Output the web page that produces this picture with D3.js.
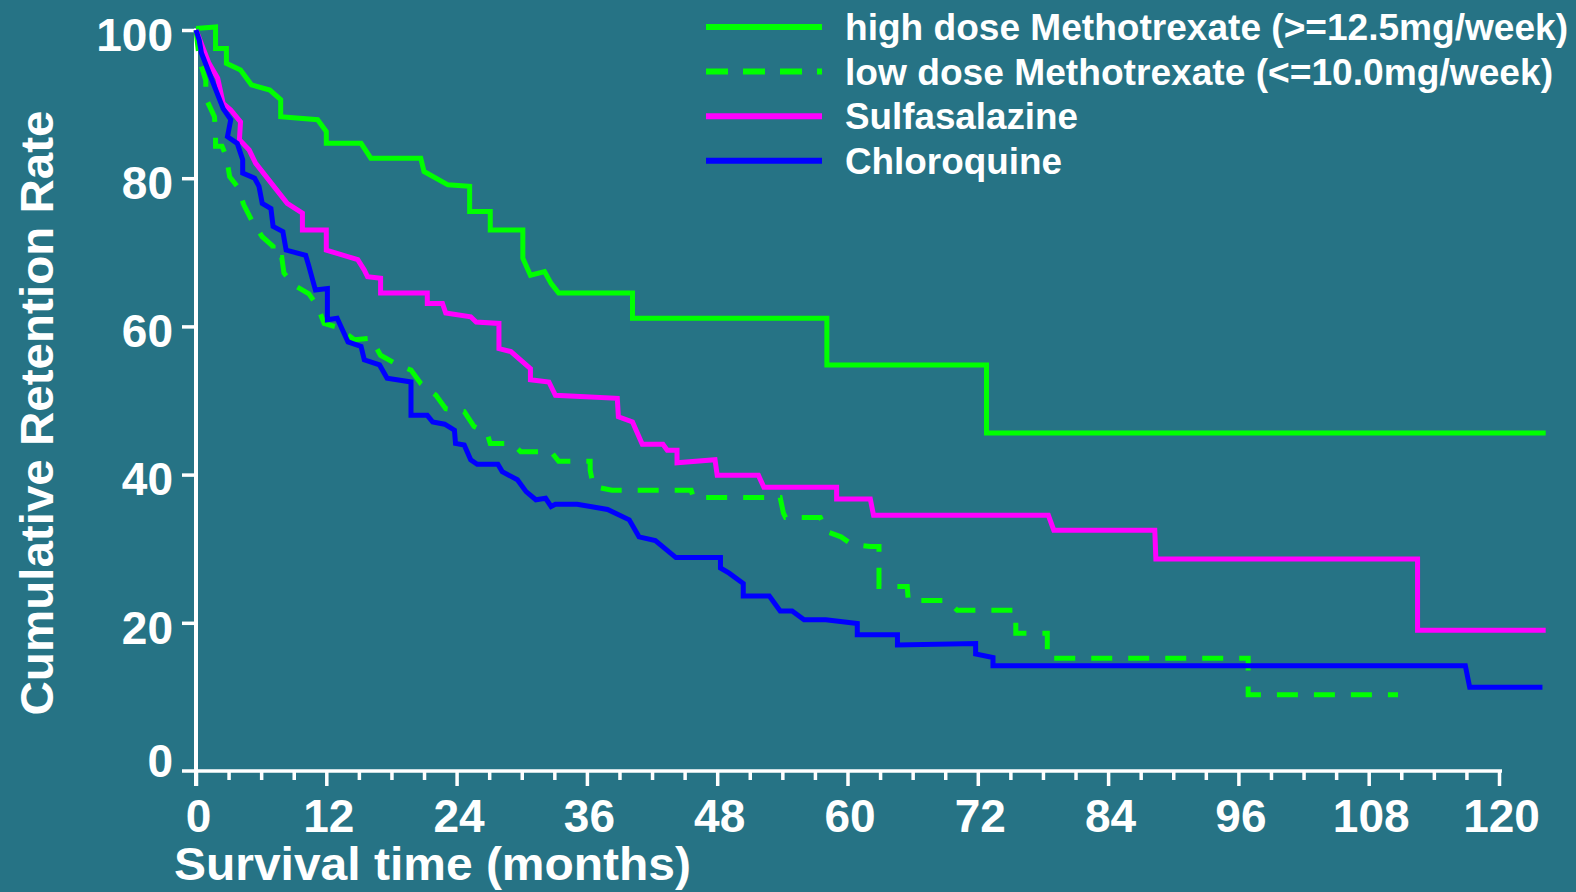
<!DOCTYPE html>
<html>
<head>
<meta charset="utf-8">
<script src="https://cdn.jsdelivr.net/npm/d3@7"></script>
<style>
  html, body { margin: 0; padding: 0; background: #267385; }
  svg { display: block; font-family: "Liberation Sans", Arial, Helvetica, sans-serif; font-weight: bold; }
</style>
</head>
<body>
<svg id="chart" width="1576" height="892"></svg>
<script>
/* Drug retention (Kaplan-Meier style) curves, four DMARD groups. */
(function () {
  "use strict";

  const BG = "#267385", INK = "#ffffff";

  const seriesNames = [
    "high dose Methotrexate (>=12.5mg/week)",
    "low dose Methotrexate (<=10.0mg/week)",
    "Sulfasalazine",
    "Chloroquine",
  ];
  const seriesColors = ["#00ff00", "#00ff00", "#ff00ff", "#0000ff"];
  const seriesDash = [null, "21,16", null, null];

  // [month, cumulative retention %]
  const highDose = [
    [0, 100.2], [1.8, 100.4], [1.8, 97.5], [2.8, 97.5], [2.8, 95.5], [4.1, 94.6], [5.1, 92.6],
    [6.8, 91.9], [7.8, 90.6], [7.8, 88.3], [11.2, 87.9], [12, 86.3], [12, 84.7], [15.2, 84.7],
    [16.1, 82.7], [20.7, 82.7], [21, 80.9], [23.2, 79.1], [25.2, 78.9], [25.2, 75.5], [27.1, 75.5],
    [27.1, 73], [30.1, 73], [30.1, 69.2], [30.8, 66.9], [32.1, 67.4], [32.7, 65.8], [33.4, 64.5],
    [40.2, 64.5], [40.2, 61.1], [58.1, 61.1], [58.1, 54.8], [72.8, 54.8], [72.8, 45.6], [124.3, 45.6],
  ];
  const lowDose = [
    [0, 100], [0.3, 96], [0.9, 93.2], [0.9, 90.8], [1.7, 88.3], [1.8, 86], [1.8, 84.3], [2.4, 84.3],
    [2.8, 82.9], [3.1, 80.2], [3.8, 78.9], [4.4, 76.4], [5.1, 74.4], [6.1, 72.1], [7.1, 70.8],
    [7.1, 69.3], [7.9, 69.3], [8.1, 67.2], [9.0, 65.6], [10.4, 64.4], [11.2, 62.7], [11.8, 60.4],
    [13.0, 59.9], [14.6, 58.2], [16.1, 58.4], [17.0, 56.1], [18.6, 54.8], [19.8, 54.1], [20.7, 52.3],
    [22.1, 50.7], [23.0, 48.9], [24.7, 48.5], [25.6, 46.5], [26.8, 45.6], [27.1, 44.2], [29.1, 44.2],
    [29.9, 43.1], [32.7, 43.1], [33.4, 41.8], [36.3, 41.8], [36.3, 40.6], [36.6, 38.4], [38.3, 37.9],
    [45.6, 37.9], [45.8, 36.9], [53.8, 36.9], [54.1, 34.8], [54.3, 34.2], [57.5, 34.2], [58.1, 32.3],
    [59.4, 31.6], [60.4, 30.6], [62.1, 30.3], [62.9, 30.3], [62.9, 24.9], [65.5, 24.9], [65.6, 23],
    [69.2, 23], [70.1, 21.7], [75.5, 21.7], [75.5, 18.6], [78.4, 18.6], [78.4, 15.2], [96.9, 15.2],
    [96.9, 10.3], [110.7, 10.3],
  ];
  const sulfasalazine = [
    [0, 100], [1.2, 95.5], [2.0, 93.5], [2.5, 90.1], [3.2, 89.2], [4.1, 87.6], [4.0, 85.2], [4.9, 83.8],
    [5.5, 82], [8.4, 76.6], [9.8, 75.3], [9.8, 73], [12, 73], [12, 70.3], [14.9, 69], [15.5, 67.6],
    [15.8, 66.7], [17, 66.5], [17, 64.5], [21.3, 64.5], [21.3, 63.1], [22.7, 63.1], [23, 61.8],
    [25.3, 61.3], [25.8, 60.6], [27.9, 60.4], [27.9, 57], [29, 56.6], [30.8, 54.3], [30.8, 52.8],
    [32.5, 52.5], [33.1, 50.7], [38.8, 50.3], [38.9, 47.8], [40.2, 47.1], [41.1, 44.1], [43, 44.1],
    [43.4, 43.3], [44.3, 43.3], [44.3, 41.6], [47.8, 42], [48, 39.9], [51.8, 39.9], [52.3, 38.3],
    [59, 38.3], [59, 36.7], [62.1, 36.7], [62.4, 34.5], [78.5, 34.5], [79, 32.5], [88.3, 32.5],
    [88.4, 28.6], [112.5, 28.6], [112.5, 19], [124.3, 19],
  ];
  const chloroquine = [
    [0, 100], [0.3, 98.6], [0.5, 96.9], [2.5, 89.4], [3.2, 87.9], [2.9, 85.6], [3.8, 84.7], [4.3, 82.5],
    [4.3, 80.7], [5.4, 80], [5.8, 78.9], [6.1, 76.6], [6.9, 75.9], [7.1, 73.5], [8.0, 72.8], [8.3, 70.3],
    [10.1, 69.6], [10.4, 68.1], [11.0, 64.9], [12.1, 65.1], [12.1, 60.9], [13.0, 61.1], [14.0, 57.9],
    [15.2, 57.3], [15.5, 55.5], [16.9, 54.8], [17.6, 53], [19.8, 52.5], [19.8, 48], [21.3, 48],
    [21.8, 47.1], [22.9, 46.8], [23.8, 46], [23.9, 44.2], [24.7, 44], [25.3, 42], [25.9, 41.4],
    [27.8, 41.4], [28.2, 40.4], [29.6, 39.3], [30.4, 37.7], [31.3, 36.6], [32.2, 36.8], [32.7, 35.7],
    [33.1, 36], [35.1, 36], [37.9, 35.3], [39.9, 33.9], [40.8, 31.6], [42.3, 31.1], [44.2, 28.8],
    [48.3, 28.8], [48.3, 27.4], [49.1, 26.7], [50.4, 25.3], [50.4, 23.6], [52.8, 23.6], [53.8, 21.6],
    [54.9, 21.6], [56, 20.4], [58, 20.4], [60.9, 19.9], [60.9, 18.4], [64.6, 18.4], [64.6, 17],
    [71.8, 17.2], [71.8, 15.8], [73.4, 15.3], [73.4, 14.2], [116.9, 14.2], [117.3, 11.3], [124, 11.3],
  ];
  const seriesData = [highDose, lowDose, sulfasalazine, chloroquine];

  const xTicks = [0, 12, 24, 36, 48, 60, 72, 84, 96, 108, 120];
  const xMinorTicks = d3.range(0, 121, 3).filter((v) => v % 12 !== 0);
  const yTicks = [0, 20, 40, 60, 80, 100];
  const xTitle = "Survival time (months)";
  const yTitle = "Cumulative Retention Rate";

  const W = 1576, H = 892;
  const x = d3.scaleLinear().domain([0, 120]).range([196, 1499]);
  const y = d3.scaleLinear().domain([0, 100]).range([771, 30]);

  const svg = d3.select("#chart");
  svg.append("rect").attr("width", W).attr("height", H).attr("fill", BG);

  // minor x ticks
  svg.append("g").attr("transform", `translate(0,${y(0)})`)
    .call(d3.axisBottom(x).tickValues(xMinorTicks).tickSize(9).tickFormat(""))
    .call((g) => g.select(".domain").remove())
    .call((g) => g.selectAll("line").attr("stroke", INK).attr("stroke-width", 3.5));

  // major x ticks + labels
  svg.append("g").attr("transform", `translate(0,${y(0)})`)
    .call(d3.axisBottom(x).tickValues(xTicks).tickSize(15).tickPadding(13))
    .call((g) => g.select(".domain").remove())
    .call((g) => g.selectAll("line").attr("stroke", INK).attr("stroke-width", 3.5))
    .call((g) => g.selectAll("text").attr("fill", INK).attr("font-size", 46)
      .attr("font-family", null).attr("dx", 2));

  // y ticks + labels
  svg.append("g").attr("transform", `translate(${x(0)},0)`)
    .call(d3.axisLeft(y).tickValues(yTicks).tickSize(14).tickPadding(9))
    .call((g) => g.select(".domain").remove())
    .call((g) => g.selectAll("line").attr("stroke", INK).attr("stroke-width", 3.5))
    .call((g) => g.selectAll("text").attr("fill", INK).attr("font-size", 46)
      .attr("font-family", null).attr("dy", (d) => (d === 0 ? "0.12em" : "0.44em")))
    .call((g) => g.selectAll(".tick").filter((d) => d === 0).select("line").remove());

  // axis lines, crossing at the origin
  svg.append("line").attr("x1", x(0) - 14).attr("x2", x(120) + 3)
    .attr("y1", y(0)).attr("y2", y(0)).attr("stroke", INK).attr("stroke-width", 3.5);
  svg.append("line").attr("x1", x(0)).attr("x2", x(0))
    .attr("y1", y(100) - 1.5).attr("y2", y(0) + 15).attr("stroke", INK).attr("stroke-width", 4);

  // axis titles
  svg.append("text").attr("x", 174).attr("y", 880).attr("fill", INK).attr("font-size", 47)
    .attr("textLength", 517).attr("lengthAdjust", "spacingAndGlyphs").text(xTitle);
  svg.append("text").attr("transform", "translate(53,413) rotate(-90)").attr("text-anchor", "middle")
    .attr("fill", INK).attr("font-size", 47)
    .attr("textLength", 605).attr("lengthAdjust", "spacingAndGlyphs").text(yTitle);

  // curves
  const line = d3.line().x((d) => x(d[0])).y((d) => y(d[1]));
  svg.append("g").selectAll("path").data(seriesData).enter().append("path")
    .attr("d", line)
    .attr("fill", "none")
    .attr("stroke", (d, i) => seriesColors[i])
    .attr("stroke-dasharray", (d, i) => seriesDash[i])
    .attr("stroke-width", 5)
    .attr("stroke-linejoin", "miter");

  // legend
  const legendW = [723, 708, 233, 217];
  const lg = svg.append("g").selectAll("g").data(seriesNames).enter().append("g")
    .attr("transform", (d, i) => `translate(706,${27 + i * 44.6})`);
  lg.append("line").attr("x1", 0).attr("x2", 116)
    .attr("stroke", (d, i) => seriesColors[i])
    .attr("stroke-dasharray", (d, i) => (seriesDash[i] ? "22,15" : null))
    .attr("stroke-width", 6);
  lg.append("text").attr("x", 139).attr("y", 13).attr("fill", INK).attr("font-size", 37)
    .attr("textLength", (d, i) => legendW[i]).attr("lengthAdjust", "spacingAndGlyphs")
    .text((d) => d);
})();
</script>
</body>
</html>
